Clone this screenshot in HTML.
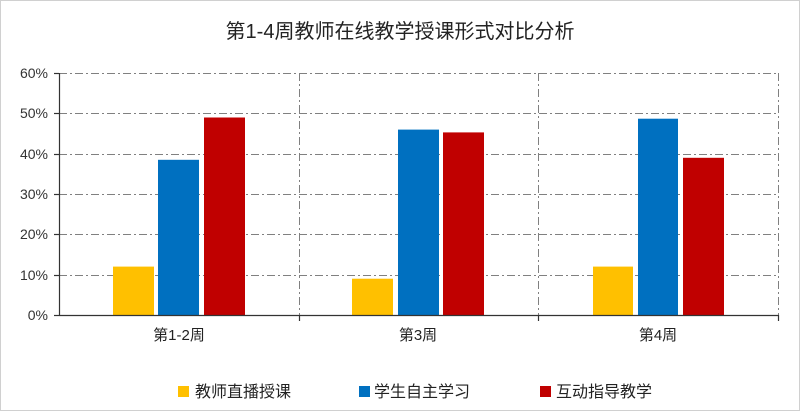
<!DOCTYPE html>
<html><head><meta charset="utf-8"><style>
html,body{margin:0;padding:0;background:#fff;}
svg{display:block;font-family:"Liberation Sans","Noto Sans CJK SC",sans-serif;}
</style></head><body>
<svg width="800" height="411" viewBox="0 0 800 411">
<rect x="0.5" y="0.5" width="799" height="410" fill="#fff" stroke="#d0d0d0"/>
<text x="400" y="38" text-anchor="middle" font-size="20" fill="#222">第1-4周教师在线教学授课形式对比分析</text>
<g stroke="#808080" stroke-width="1" stroke-dasharray="8,3,2,3" fill="none">
<line x1="59" y1="73.5" x2="778" y2="73.5"/>
<line x1="59" y1="113.5" x2="778" y2="113.5"/>
<line x1="59" y1="154.5" x2="778" y2="154.5"/>
<line x1="59" y1="194.5" x2="778" y2="194.5"/>
<line x1="59" y1="234.5" x2="778" y2="234.5"/>
<line x1="59" y1="275.5" x2="778" y2="275.5"/>
<line x1="299.5" y1="73" x2="299.5" y2="315"/>
<line x1="538.5" y1="73" x2="538.5" y2="315"/>
<line x1="778.5" y1="73" x2="778.5" y2="315"/>
</g>
<g fill="#FFC000">
<rect x="113" y="266.6" width="41" height="48.4"/>
<rect x="352" y="278.7" width="41" height="36.3"/>
<rect x="593" y="266.6" width="40" height="48.4"/>
</g>
<g fill="#0070C0">
<rect x="158" y="159.8" width="41" height="155.2"/>
<rect x="398" y="129.6" width="41" height="185.4"/>
<rect x="638" y="118.7" width="40" height="196.3"/>
</g>
<g fill="#C00000">
<rect x="204" y="117.5" width="41" height="197.5"/>
<rect x="443" y="132.4" width="41" height="182.6"/>
<rect x="683" y="157.8" width="41" height="157.2"/>
</g>
<g stroke="#333" stroke-width="1.2">
<line x1="59.5" y1="73" x2="59.5" y2="316"/>
<line x1="59" y1="315.5" x2="779" y2="315.5"/>
<line x1="54" y1="73.5" x2="59" y2="73.5"/>
<line x1="54" y1="113.5" x2="59" y2="113.5"/>
<line x1="54" y1="154.5" x2="59" y2="154.5"/>
<line x1="54" y1="194.5" x2="59" y2="194.5"/>
<line x1="54" y1="234.5" x2="59" y2="234.5"/>
<line x1="54" y1="275.5" x2="59" y2="275.5"/>
<line x1="54" y1="315.5" x2="59" y2="315.5"/>
<line x1="299.5" y1="315" x2="299.5" y2="321"/>
<line x1="538.5" y1="315" x2="538.5" y2="321"/>
<line x1="778.5" y1="315" x2="778.5" y2="321"/>
</g>
<g font-size="14" fill="#333" text-anchor="end">
<text x="48" y="78">60%</text>
<text x="48" y="118">50%</text>
<text x="48" y="159">40%</text>
<text x="48" y="199">30%</text>
<text x="48" y="239">20%</text>
<text x="48" y="280">10%</text>
<text x="48" y="320">0%</text>
</g>
<g font-size="15" fill="#222" text-anchor="middle">
<text x="179" y="340">第1-2周</text>
<text x="418" y="340">第3周</text>
<text x="658" y="340">第4周</text>
</g>
<rect x="178" y="386" width="11" height="11" fill="#FFC000"/>
<text x="195" y="397" font-size="16" fill="#222">教师直播授课</text>
<rect x="359" y="386" width="11" height="11" fill="#0070C0"/>
<text x="374" y="397" font-size="16" fill="#222">学生自主学习</text>
<rect x="540" y="386" width="11" height="11" fill="#C00000"/>
<text x="556" y="397" font-size="16" fill="#222">互动指导教学</text>
</svg>
</body></html>
